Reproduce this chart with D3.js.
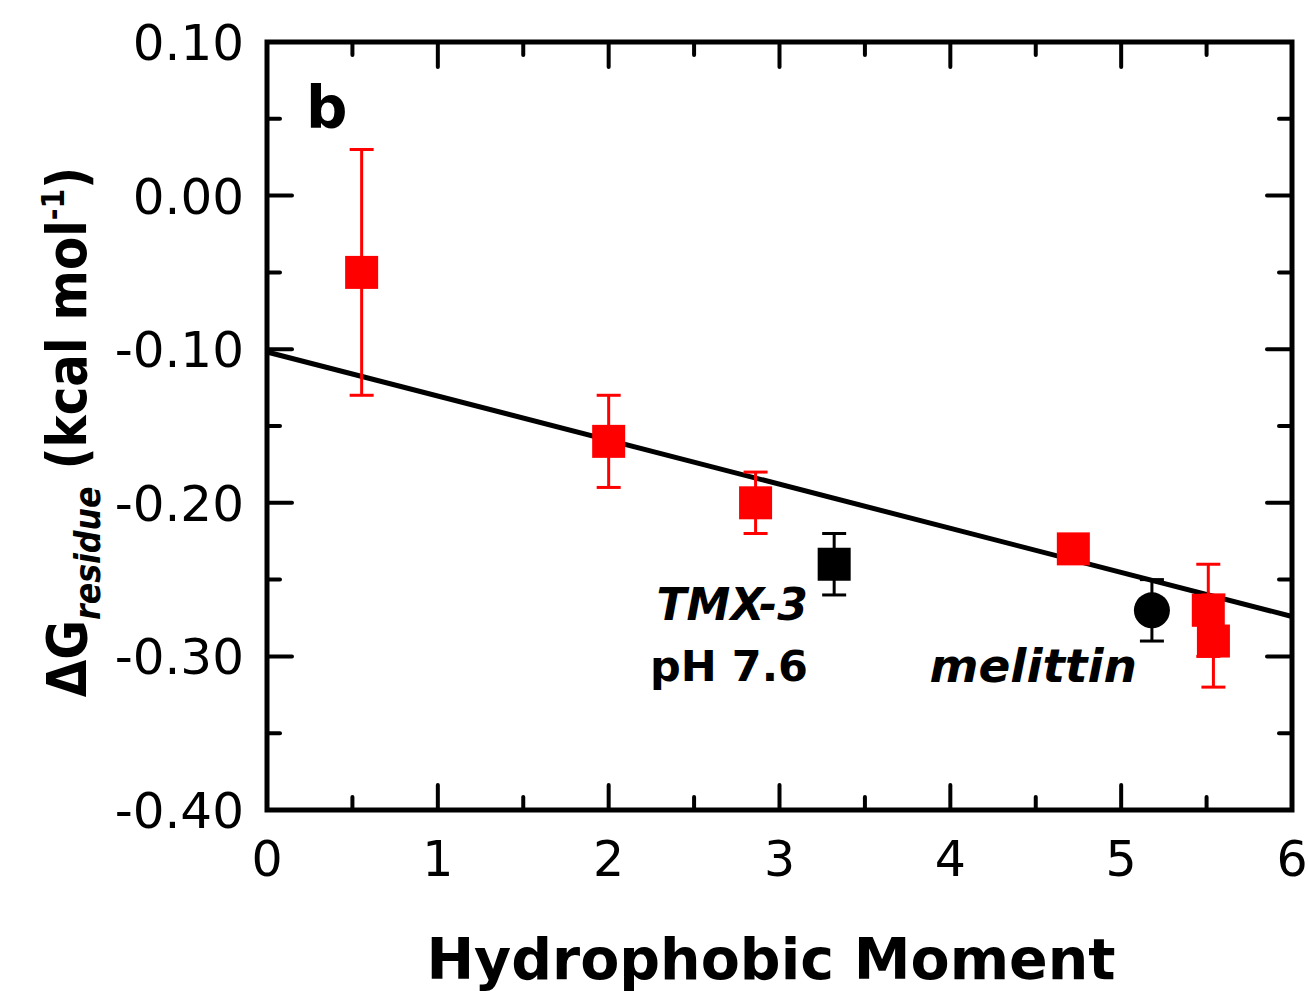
<!DOCTYPE html>
<html>
<head>
<meta charset="utf-8">
<script src="https://cdn.jsdelivr.net/npm/d3@7"></script>
<style>
  body { margin: 0; background: #fff; }
  text { font-family: "DejaVu Sans", sans-serif; }
</style>
</head>
<body>
<script>
const width = 1309
const height = 991

// data
const peptides = ['p1', 'p2', 'p3', 'TMX-3', 'p5', 'melittin', 'p6', 'p7']
const moments = [0.554, 2.0, 2.86, 3.32, 4.72, 5.18, 5.51, 5.54]
const dG = [-0.05, -0.16, -0.20, -0.24, -0.23, -0.27, -0.27, -0.29]
const errs = [0.08, 0.03, 0.02, 0.02, 0.0, 0.02, 0.03, 0.03]
const kinds = ['red', 'red', 'red', 'black', 'red', 'circle', 'red', 'red']

const fitIntercept = -0.1018
const fitSlope = -0.0287

const xTicks = [0, 1, 2, 3, 4, 5, 6]
const yTicks = [0.10, 0.00, -0.10, -0.20, -0.30, -0.40]

const margin = {top: 42, right: 17, bottom: 181, left: 267}
const x = d3.scaleLinear().domain([0, 6]).range([margin.left, width - margin.right])
const y = d3.scaleLinear().domain([-0.40, 0.10]).range([height - margin.bottom, margin.top])

const svg = d3.select('body')
  .append('svg')
  .attr('width', width)
  .attr('height', height)

const points = peptides.map((name, i) => ({name, x: moments[i], y: dG[i], e: errs[i], kind: kinds[i]}))

// fit line
svg.append('line')
  .attr('x1', x(0)).attr('y1', y(fitIntercept))
  .attr('x2', x(6)).attr('y2', y(fitIntercept + fitSlope * 6))
  .attr('stroke', '#000')
  .attr('stroke-width', 5)

// error bars
const errG = svg.append('g')
for (const p of points.filter((d) => d.e > 0)) {
  const col = p.kind === 'red' ? '#ff0000' : '#000'
  const g = errG.append('g').attr('stroke', col).attr('stroke-width', 3)
  g.append('line')
    .attr('x1', x(p.x)).attr('x2', x(p.x))
    .attr('y1', y(p.y + p.e)).attr('y2', y(p.y - p.e))
  for (const v of [p.y + p.e, p.y - p.e]) {
    g.append('line')
      .attr('x1', x(p.x) - 12).attr('x2', x(p.x) + 12)
      .attr('y1', y(v)).attr('y2', y(v))
  }
}

// markers
const sq = 33
svg.selectAll('.sq')
  .data(points.filter((d) => d.kind !== 'circle'))
  .enter()
  .append('rect')
  .classed('sq', true)
  .attr('x', (d) => x(d.x) - sq / 2)
  .attr('y', (d) => y(d.y) - sq / 2)
  .attr('width', sq)
  .attr('height', sq)
  .attr('fill', (d) => d.kind === 'red' ? '#ff0000' : '#000')

svg.selectAll('.dot')
  .data(points.filter((d) => d.kind === 'circle'))
  .enter()
  .append('circle')
  .classed('dot', true)
  .attr('cx', (d) => x(d.x))
  .attr('cy', (d) => y(d.y))
  .attr('r', 18)
  .attr('fill', '#000')

// axes: inward ticks on all four sides
const xMinor = d3.range(0.5, 6, 1)
const yMinor = d3.range(-0.35, 0.1, 0.1)
const tickG = svg.append('g').attr('stroke', '#000').attr('stroke-width', 4).attr('stroke-linecap', 'round')
const x0 = x(0), x1 = x(6), y0 = y(-0.40), y1 = y(0.10)
for (const t of xTicks.slice(1, -1)) {
  tickG.append('line').attr('x1', x(t)).attr('x2', x(t)).attr('y1', y0).attr('y2', y0 - 25)
  tickG.append('line').attr('x1', x(t)).attr('x2', x(t)).attr('y1', y1).attr('y2', y1 + 25)
}
for (const t of xMinor) {
  tickG.append('line').attr('x1', x(t)).attr('x2', x(t)).attr('y1', y0).attr('y2', y0 - 13)
  tickG.append('line').attr('x1', x(t)).attr('x2', x(t)).attr('y1', y1).attr('y2', y1 + 13)
}
for (const t of yTicks.slice(1, -1)) {
  tickG.append('line').attr('y1', y(t)).attr('y2', y(t)).attr('x1', x0).attr('x2', x0 + 25)
  tickG.append('line').attr('y1', y(t)).attr('y2', y(t)).attr('x1', x1).attr('x2', x1 - 25)
}
for (const t of yMinor) {
  tickG.append('line').attr('y1', y(t)).attr('y2', y(t)).attr('x1', x0).attr('x2', x0 + 13)
  tickG.append('line').attr('y1', y(t)).attr('y2', y(t)).attr('x1', x1).attr('x2', x1 - 13)
}

svg.append('rect')
  .attr('x', x0).attr('y', y1)
  .attr('width', x1 - x0).attr('height', y0 - y1)
  .attr('fill', 'none')
  .attr('stroke', '#000')
  .attr('stroke-width', 5)

// tick labels
svg.selectAll('.xl')
  .data(xTicks)
  .enter()
  .append('text')
  .attr('x', (d) => x(d))
  .attr('y', y0 + 48)
  .attr('dy', '0.36em')
  .attr('text-anchor', 'middle')
  .attr('font-size', 49)
  .text((d) => d)

svg.selectAll('.yl')
  .data(yTicks)
  .enter()
  .append('text')
  .attr('x', x0 - 23)
  .attr('y', (d) => y(d))
  .attr('dy', '0.36em')
  .attr('text-anchor', 'end')
  .attr('font-size', 50)
  .text((d) => d3.format('.2f')(d).replace('−', '-'))

// axis titles
svg.append('text')
  .attr('x', 771)
  .attr('y', 979)
  .attr('text-anchor', 'middle')
  .attr('font-size', 57)
  .attr('font-weight', 'bold')
  .text('Hydrophobic Moment')

const yt = svg.append('text')
  .attr('transform', 'translate(86,432) rotate(-90) scale(0.88,1)')
  .attr('text-anchor', 'middle')
  .attr('font-size', 55)
  .attr('font-weight', 'bold')
yt.append('tspan').text('ΔG')
yt.append('tspan').attr('font-size', 36).attr('font-style', 'italic').attr('dy', 14).text('residue')
yt.append('tspan').attr('dy', -14).text(' (kcal mol')
yt.append('tspan').attr('font-size', 32).attr('dy', -22).text('-1')
yt.append('tspan').attr('dy', 22).text(')')

// annotations
svg.append('text')
  .attr('x', 306).attr('y', 128)
  .attr('font-size', 58).attr('font-weight', 'bold')
  .text('b')

svg.append('text')
  .attr('x', 808).attr('y', 620)
  .attr('text-anchor', 'end')
  .attr('font-size', 44).attr('font-weight', 'bold').attr('font-style', 'italic')
  .text('TMX-3')

svg.append('text')
  .attr('x', 808).attr('y', 681)
  .attr('text-anchor', 'end')
  .attr('font-size', 43).attr('font-weight', 'bold')
  .text('pH 7.6')

svg.append('text')
  .attr('x', 1137).attr('y', 682)
  .attr('text-anchor', 'end')
  .attr('font-size', 47).attr('font-weight', 'bold').attr('font-style', 'italic')
  .text('melittin')
</script>
</body>
</html>
